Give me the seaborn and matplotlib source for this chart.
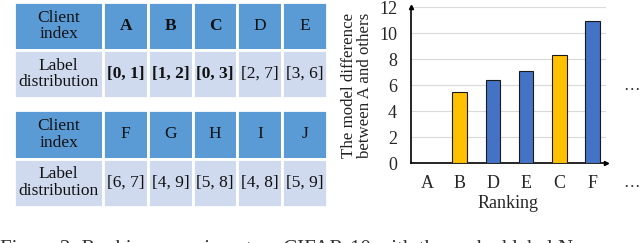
"""
Label distributions of clients and model-difference ranking
"""

import numpy as np
import pandas as pd
import matplotlib.pyplot as plt
import seaborn as sns

clients_top = ['A', 'B', 'C', 'D', 'E']
labels_top = ['[0, 1]', '[1, 2]', '[0, 3]', '[2, 7]', '[3, 6]']
bold_top = [True, True, True, False, False]
clients_bottom = ['F', 'G', 'H', 'I', 'J']
labels_bottom = ['[6, 7]', '[4, 9]', '[5, 8]', '[4, 8]', '[5, 9]']

ranking = ['A', 'B', 'D', 'E', 'C', 'F']
model_diff = [0.0, 5.5, 6.4, 7.1, 8.3, 10.9]
same_labels = [False, True, False, False, True, False]  # share labels with A
y_ticks = [0, 2, 4, 6, 8, 10, 12]

HEAD = '#5B9BD5'
BODY = '#CFDAEE'
YELLOW = '#FFC000'
BLUE = '#4472C4'

sns.set_style('white')
plt.rcParams['font.family'] = ['Liberation Serif', 'DejaVu Serif']

fig = plt.figure(figsize=(6.4, 2.43), dpi=100)


def draw_table(rect, clients, dists, bold):
    ax = fig.add_axes(rect)
    ax.axis('off')
    cells = [['Client\nindex'] + clients, ['Label\ndistribution'] + dists]
    colors = [[HEAD] * 6, [BODY] * 6]
    w = [0.285] + [0.143] * 5
    tab = ax.table(cellText=cells, cellColours=colors, colWidths=w,
                   cellLoc='center', bbox=[0, 0, 1, 1])
    tab.auto_set_font_size(False)
    for (r, c), cell in tab.get_celld().items():
        cell.set_edgecolor('white')
        cell.set_linewidth(2)
        cell.PAD = 0.02
        txt = cell.get_text()
        txt.set_fontsize(12.5)
        txt.set_color('#111111')
        txt.set_linespacing(1.05)
        if c > 0 and bold[c - 1]:
            txt.set_fontweight('bold')
    return ax


draw_table([14 / 640, 145 / 243, 313 / 640, 96 / 243], clients_top, labels_top, bold_top)
draw_table([14 / 640, 36 / 243, 313 / 640, 97 / 243], clients_bottom, labels_bottom,
           [False] * 5)

# bar chart
df = pd.DataFrame({'client': ranking, 'diff': model_diff,
                   'group': ['same' if s else 'other' for s in same_labels]})
ax = fig.add_axes([411 / 640, 80 / 243, 195 / 640, 156 / 243])
sns.barplot(data=df, x='client', y='diff', hue='group', dodge=False,
            palette={'same': YELLOW, 'other': BLUE}, width=0.45, saturation=1,
            edgecolor='#1a1a1a', linewidth=0.8, legend=False, ax=ax, zorder=3)
ax.set_xlim(-0.48, 5.42)
ax.set_ylim(0, 12)
ax.set_yticks(y_ticks)
ax.yaxis.grid(True, color='#D9D9D9', linewidth=0.8, zorder=0)
ax.set_axisbelow(True)
ax.tick_params(axis='y', length=0, labelsize=13, pad=10)
ax.tick_params(axis='x', length=0, labelsize=13, pad=9)
for s in ['top', 'right']:
    ax.spines[s].set_visible(False)
for s in ['left', 'bottom']:
    ax.spines[s].set_color('black')
    ax.spines[s].set_linewidth(1.2)
ax.plot(1, 0, '>', color='black', ms=3, transform=ax.transAxes, clip_on=False)
ax.plot(0, 1, '^', color='black', ms=3, transform=ax.transAxes, clip_on=False)
ax.set_xlabel('Ranking', fontsize=13, labelpad=2)
ax.set_ylabel('The model difference\nbetween A and others', fontsize=12.2,
              labelpad=4, linespacing=1.05, color='#222222')
ax.text(6.2, 5.9, '…', fontsize=12, ha='center', va='center', clip_on=False)
ax.text(1.13, -0.13, '…', fontsize=12, ha='center', va='center',
        transform=ax.transAxes, clip_on=False)

fig.text(0.0, 0.011, 'Figure 3: Ranking experiment on CIFAR-10 with the ranked label N',
         fontsize=15, va='top', ha='left', color='#333333')

fig.savefig('out.png', dpi=100)
